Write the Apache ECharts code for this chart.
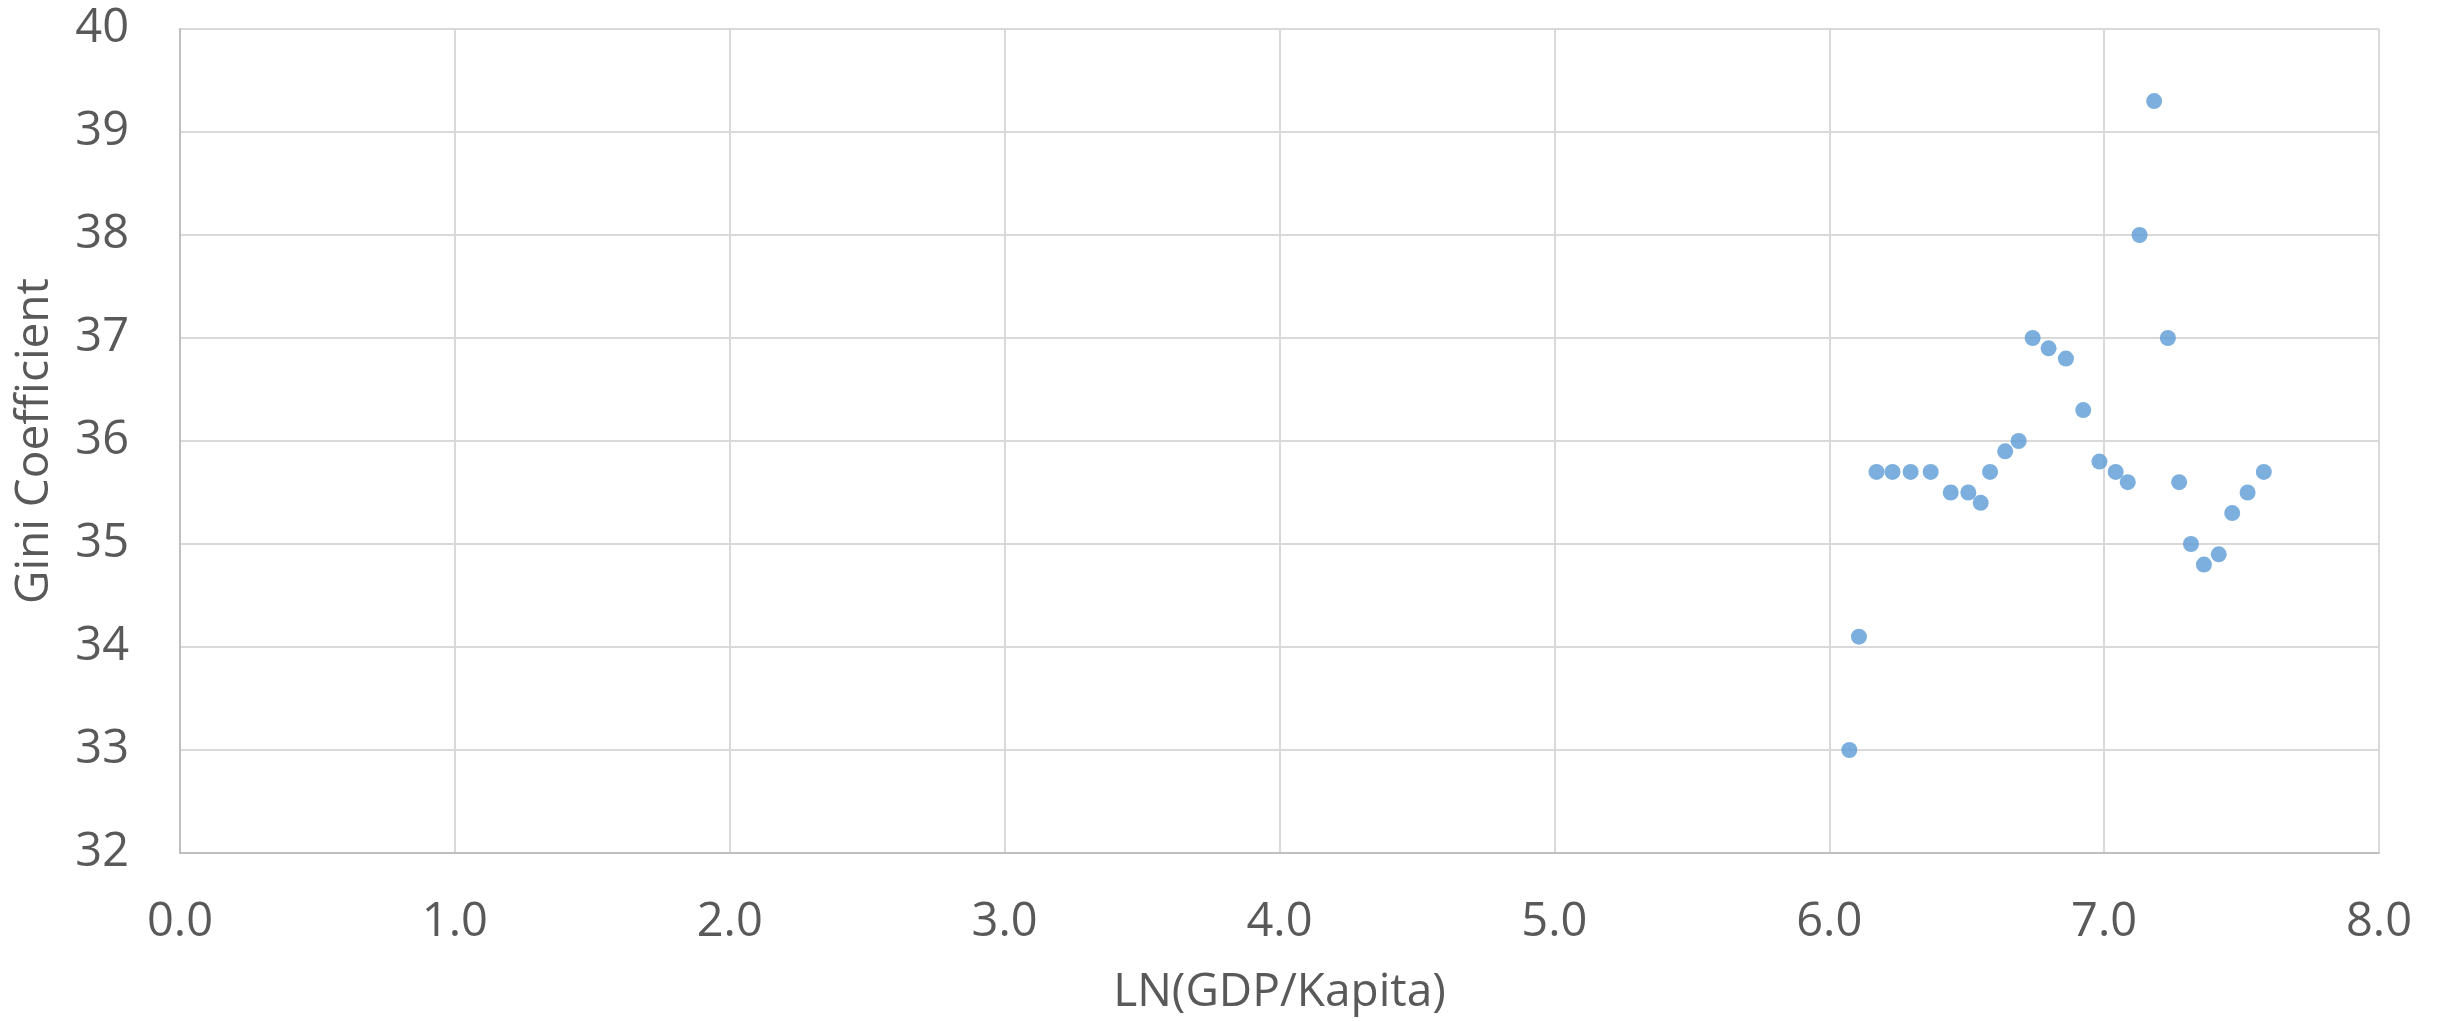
<!DOCTYPE html>
<html>
<head>
<meta charset="utf-8">
<script src="https://cdn.jsdelivr.net/npm/echarts@6/dist/echarts.min.js"></script>
<style>html,body{margin:0;padding:0;background:#fff;}#c{width:2441px;height:1021px;}</style>
</head>
<body>
<div id="c"></div>
<script>
const lnGdp = [6.073, 6.108, 6.172, 6.230, 6.296, 6.369, 6.442, 6.506, 6.551, 6.585,
  6.640, 6.689, 6.740, 6.798, 6.861, 6.924, 6.983, 7.042, 7.086, 7.129,
  7.182, 7.232, 7.273, 7.316, 7.363, 7.417, 7.466, 7.522, 7.581];
const gini = [33.0, 34.1, 35.7, 35.7, 35.7, 35.7, 35.5, 35.5, 35.4, 35.7,
  35.9, 36.0, 37.0, 36.9, 36.8, 36.3, 35.8, 35.7, 35.6, 38.0,
  39.3, 37.0, 35.6, 35.0, 34.8, 34.9, 35.3, 35.5, 35.7];
const xTitle = 'LN(GDP/Kapita)';
const yTitle = 'Gini Coefficient';

const points = lnGdp.map((x, i) => [x, gini[i]]);
const font = '"Open Sans", "Noto Sans", sans-serif';
const chart = echarts.init(document.getElementById('c'));
chart.setOption({
  animation: false,
  backgroundColor: '#ffffff',
  grid: { left: 180, right: 62, top: 29, bottom: 168, containLabel: false, outerBoundsMode: 'none' },
  xAxis: {
    type: 'value', min: 0, max: 8, interval: 1,
    name: xTitle, nameLocation: 'middle', nameGap: 117,
    nameTextStyle: { fontFamily: font, fontSize: 46, color: '#595959' },
    axisLine: { show: true, lineStyle: { color: '#BFBFBF', width: 2 } },
    axisTick: { show: false },
    axisLabel: { fontFamily: font, fontSize: 47, color: '#595959', margin: 46,
      formatter: v => v.toFixed(1) },
    splitLine: { show: true, lineStyle: { color: '#D9D9D9', width: 2 } }
  },
  yAxis: {
    type: 'value', min: 32, max: 40, interval: 1,
    name: yTitle, nameLocation: 'middle', nameGap: 122, nameRotate: 90,
    nameTextStyle: { fontFamily: font, fontSize: 46, color: '#595959' },
    axisLine: { show: true, lineStyle: { color: '#BFBFBF', width: 2 } },
    axisTick: { show: false },
    axisLabel: { fontFamily: font, fontSize: 47, color: '#595959', margin: 51 },
    splitLine: { show: true, lineStyle: { color: '#D9D9D9', width: 2 } }
  },
  series: [{
    type: 'scatter', data: points, symbol: 'circle', symbolSize: 16,
    itemStyle: { color: '#5B9BD5' }
  }]
});
</script>
</body>
</html>
